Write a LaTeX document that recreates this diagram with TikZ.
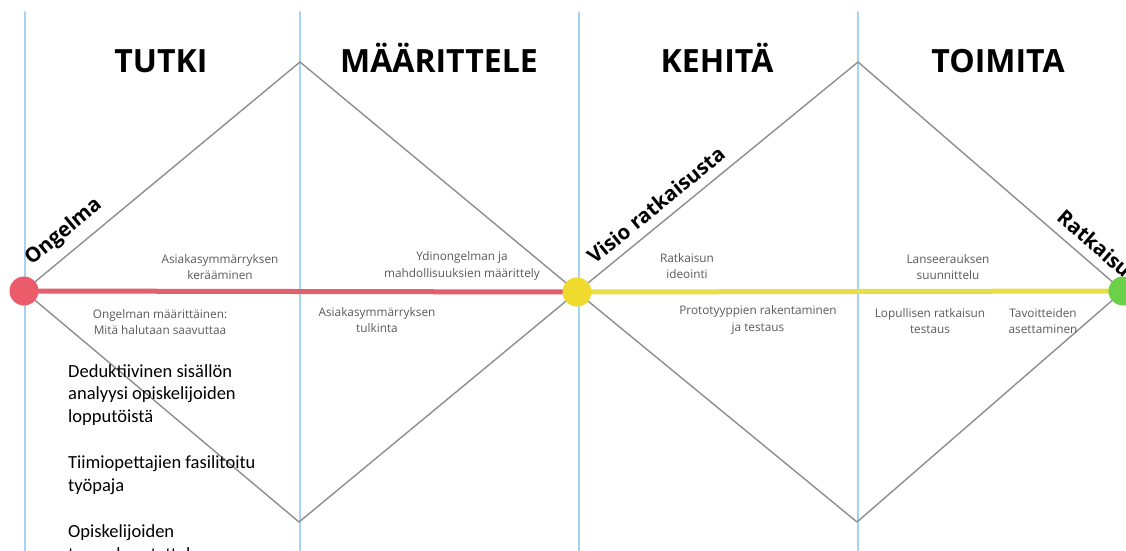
\documentclass[tikz,border=0pt]{standalone}
\usepackage{fontspec}
\setmainfont{Open Sans}
\newfontfamily\notefont{Carlito}
\usepackage{xcolor}
\usepackage{tikz}
\usetikzlibrary{positioning}
\definecolor{ddRed}{HTML}{EB5B6A}
\definecolor{ddRedLine}{HTML}{E0606D}
\definecolor{ddYellow}{HTML}{F0DA2E}
\definecolor{ddYellowLine}{HTML}{E8DE47}
\definecolor{ddGreen}{HTML}{6DD04A}
\definecolor{ddSep}{HTML}{A6D3EF}
\definecolor{ddEdge}{HTML}{8E8E8E}
\definecolor{ddText}{HTML}{5A5A5A}
\tikzset{
  dd diagram/.style={line cap=round, line join=round},
  dd phase/.style={font=\fontsize{32}{36}\selectfont\bfseries, text=black, anchor=base},
  dd sep/.style={draw=ddSep, line width=1.8pt},
  dd edge/.style={draw=ddEdge, line width=1.4pt},
  dd track/.style={line width=5pt, line cap=butt},
  dd dot/.style={circle, minimum size=29pt, inner sep=0pt},
  dd milestone/.style={font=\fontsize{20.5}{22}\selectfont\bfseries, sloped, above=6pt},
  dd step/.style={font=\fontsize{11.8}{16.5}\selectfont, text=ddText, align=center},
  dd note/.style={font=\notefont\fontsize{18.5}{22.5}\selectfont, align=left,
    anchor=base west, inner sep=0pt}
}
\begin{document}
\begin{tikzpicture}[dd diagram,x=1pt,y=-1pt]
\useasboundingbox[fill=white] (0,0) rectangle (1126,550);
% phase separators
\foreach \x [count=\i] in {25,300,579,858}{
  \coordinate (sepTop\i) at (\x,12);
  \coordinate (sepBot\i) at (\x,552);
  \draw[dd sep] (sepTop\i) -- (sepBot\i);
}
% diamond corners
\coordinate (start) at (24,291);
\coordinate (mid) at (577,292);
\coordinate (goal) at (1123,291);
\coordinate (top1) at (300,62);
\coordinate (bot1) at (299,522);
\coordinate (top2) at (858,62);
\coordinate (bot2) at (857,522);
\draw[dd edge] (start) -- (top1) -- (mid) -- (bot1) -- cycle;
\draw[dd edge] (mid) -- (top2) -- (goal) -- (bot2) -- cycle;
\draw[dd track,ddRedLine] (start) -- (mid);
\draw[dd track,ddYellowLine] (mid) -- (goal);
\node[dd dot,fill=ddRed] (ongelma) at (start) {};
\node[dd dot,fill=ddYellow] (visio) at (mid) {};
\node[dd dot,fill=ddGreen] (ratkaisu) at (goal) {};
% milestones
\path (start) -- (top1) node[dd milestone,pos=0.19] {Ongelma};
\path (mid) -- (top2) node[dd milestone,pos=0.32] {Visio ratkaisusta};
\path (top2) -- (goal) node[dd milestone,pos=0.85] {Ratkaisu};
% phases
\node[dd phase] (tutki) at (161,72) {TUTKI};
\node[dd phase] (maarittele) at (439,72) {MÄÄRITTELE};
\node[dd phase] (kehita) at (717,72) {KEHITÄ};
\node[dd phase] (toimita) at (998,72) {TOIMITA};
% steps
\node[dd step] (s1) at (220,267) {Asiakasymmärryksen\\kerääminen};
\node[dd step] (s2) at (160,322) {Ongelman määrittäinen:\\Mitä halutaan saavuttaa};
\node[dd step] (s3) at (462,266) {Ydinongelman ja\\mahdollisuuksien määrittely};
\node[dd step] (s4) at (377,320) {Asiakasymmärryksen\\tulkinta};
\node[dd step] (s5) at (687,266) {Ratkaisun\\ideointi};
\node[dd step] (s6) at (758,320) {Prototyyppien rakentaminen\\ja testaus};
\node[dd step] (s7) at (948,267) {Lanseerauksen\\suunnittelu};
\node[dd step] (s8) at (930,321) {Lopullisen ratkaisun\\testaus};
\node[dd step] (s9) at (1043,321) {Tavoitteiden\\asettaminen};
% methods
\node[dd note] (m1) at (68,422) {Deduktiivinen sisällön\\analyysi opiskelijoiden\\lopputöistä};
\node[dd note] (m2) at (68,491) {Tiimiopettajien fasilitoitu\\työpaja};
\node[dd note] (m3) at (68,560) {Opiskelijoiden\\teemahaastattelu};
\end{tikzpicture}
\end{document}
